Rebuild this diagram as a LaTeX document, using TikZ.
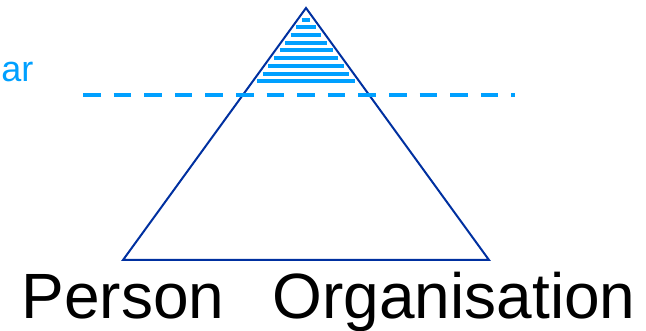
\documentclass[tikz,border=0pt]{standalone}
\usepackage{fontspec}
\setmainfont{Liberation Sans}
\usetikzlibrary{positioning}
\definecolor{pyramidblue}{RGB}{0,48,160}
\definecolor{levelblue}{RGB}{0,160,255}
\tikzset{
    % Line styles
    edge line/.style={draw=pyramidblue, line width=2pt, line join=miter},
    level line/.style={draw=levelblue, line width=4pt, dash pattern=on 17.6pt off 13pt},
    hatch line/.style={draw=levelblue, line width=4pt},
    % Text styles
    big label/.style={font=\fontsize{64}{77}\selectfont, inner sep=0pt, anchor=base},
    level label/.style={font=\fontsize{36}{43}\selectfont, text=levelblue, inner sep=0pt, anchor=base east},
}

\begin{document}
\begin{tikzpicture}[x=1pt, y=-1pt]
    \useasboundingbox (0,0) rectangle (646,331);

    % Corners
    \coordinate (apex) at (306,8);
    \coordinate (left) at (123,260);
    \coordinate (right) at (489,260);

    % Hatching near the apex
    \foreach \y in {19.7,27.4,...,81.5} {
        \pgfmathsetmacro{\w}{(\y-14)*0.726}
        \draw[hatch line] (306-\w,\y) -- (306+\w,\y);
    }

    % Triangle
    \draw[edge line] (apex) -- (left) -- (right) -- cycle;

    % Level line
    \coordinate (level start) at (83,95);
    \coordinate (level end) at (515,95);
    \draw[level line] (level start) -- (level end);

    % Labels
    \node[level label] (level) at (33.5,81.7) {ar};
    \node[big label] (person) at (123,318.3) {Person};
    \node[big label] (org) at (454,318.3) {Organisation};
\end{tikzpicture}
\end{document}
